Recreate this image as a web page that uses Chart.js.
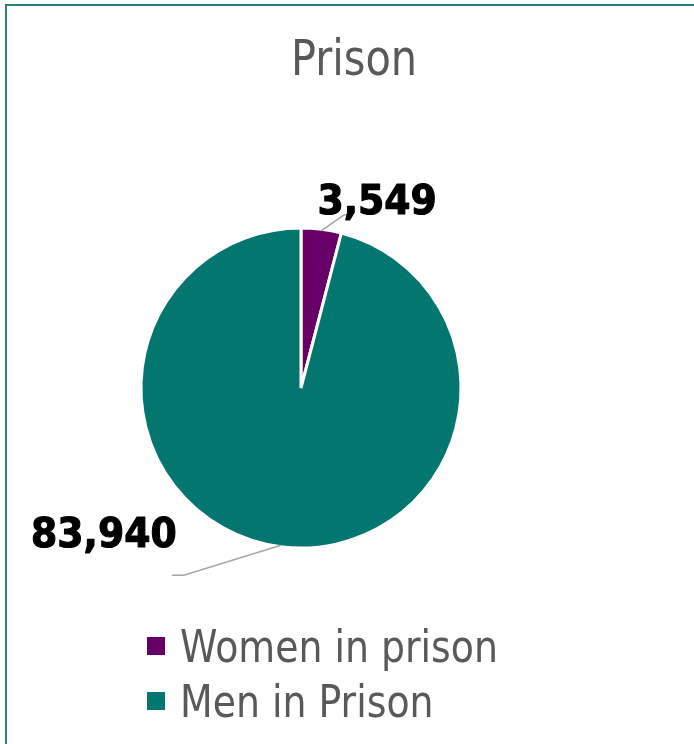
<!DOCTYPE html>
<html>
<head>
<meta charset="utf-8">
<script src="https://cdn.jsdelivr.net/npm/chart.js@4"></script>
<style>
  html, body { margin: 0; padding: 0; background: #fff; }
  canvas { display: block; }
</style>
</head>
<body>
<canvas id="prisonChart" width="694" height="744"></canvas>
<script>
// data
const categories = ['Women in prison', 'Men in Prison'];
const prisonValues = [3549, 83940];
const sliceColors = ['#660066', '#03776f'];
const chartTitle = 'Prison';

const FONT = "'DejaVu Sans', Verdana, sans-serif";
const GREY_TEXT = '#595959';

// where each data label sits relative to the slice edge (elbow, short tail, text)
const labelPlacement = [
    { elbow: [23, -16], tail: 8, text: [56, -17] },
    { elbow: [-97, 30], tail: -12, text: [-177, 2] }
];

// draw text squeezed horizontally (the original font is narrower than DejaVu)
function drawText(ctx, text, x, y, font, color, squeeze, align, heavy) {
    ctx.save();
    ctx.font = font;
    ctx.fillStyle = color;
    ctx.textBaseline = 'alphabetic';
    ctx.textAlign = align || 'left';
    ctx.translate(x, y);
    ctx.scale(squeeze, 1);
    ctx.fillText(text, 0, 0);
    if (heavy) {
        // thicken the strokes a little, the original bold is heavier
        ctx.strokeStyle = color;
        ctx.lineWidth = heavy;
        ctx.lineJoin = 'round';
        ctx.strokeText(text, 0, 0);
    }
    ctx.restore();
}

const decorPlugin = {
    id: 'decor',
    beforeDraw(chart) {
        const ctx = chart.ctx;
        ctx.save();
        ctx.fillStyle = '#fff';
        ctx.fillRect(0, 0, chart.width, chart.height);
        // frame of the chart box
        ctx.strokeStyle = '#2b7d75';
        ctx.lineWidth = 2;
        ctx.strokeRect(6, 5, chart.width + 50, chart.height + 50);
        ctx.restore();

        drawText(ctx, chartTitle, 354, 75, '50px ' + FONT, GREY_TEXT, 0.83, 'center');
    },
    afterDatasetsDraw(chart) {
        const ctx = chart.ctx;
        const meta = chart.getDatasetMeta(0);
        const values = chart.data.datasets[0].data;

        meta.data.forEach((arc, i) => {
            const p = arc.getProps(['x', 'y', 'startAngle', 'endAngle', 'outerRadius'], true);
            const mid = (p.startAngle + p.endAngle) / 2;
            const r = p.outerRadius - 1.5;
            const sx = p.x + Math.cos(mid) * r;
            const sy = p.y + Math.sin(mid) * r;
            const place = labelPlacement[i];
            const ex = sx + place.elbow[0];
            const ey = sy + place.elbow[1];

            ctx.save();
            ctx.strokeStyle = '#a6a6a6';
            ctx.lineWidth = 1.5;
            ctx.beginPath();
            ctx.moveTo(sx, sy);
            ctx.lineTo(ex, ey);
            ctx.lineTo(ex + place.tail, ey);
            ctx.stroke();
            ctx.restore();

            const txt = values[i].toLocaleString('en-US');
            drawText(ctx, txt, sx + place.text[0], sy + place.text[1],
                'bold 41px ' + FONT, '#000', 0.92, 'center', 1.2);
        });

        // legend, stacked on the lower left
        const boxX = 147, boxSize = 18, textX = 180;
        chart.data.labels.forEach((lab, i) => {
            const base = 662 + i * 55;
            ctx.save();
            ctx.fillStyle = chart.data.datasets[0].backgroundColor[i];
            ctx.fillRect(boxX, base - 25, boxSize, boxSize);
            ctx.restore();
            drawText(ctx, lab, textX, base, '44px ' + FONT, GREY_TEXT, 0.86, 'left');
        });
    }
};

const ctx = document.getElementById('prisonChart').getContext('2d');
new Chart(ctx, {
    type: 'pie',
    data: {
        labels: categories,
        datasets: [{
            data: prisonValues,
            backgroundColor: sliceColors,
            borderColor: '#ffffff',
            borderWidth: 3,
            hoverOffset: 0
        }]
    },
    options: {
        responsive: false,
        animation: false,
        devicePixelRatio: 1,
        layout: {
            padding: { left: 139.5, top: 226.5, right: 231.5, bottom: 194.5 }
        },
        plugins: {
            legend: { display: false },
            title: { display: false },
            tooltip: { enabled: false }
        }
    },
    plugins: [decorPlugin]
});
</script>
</body>
</html>
